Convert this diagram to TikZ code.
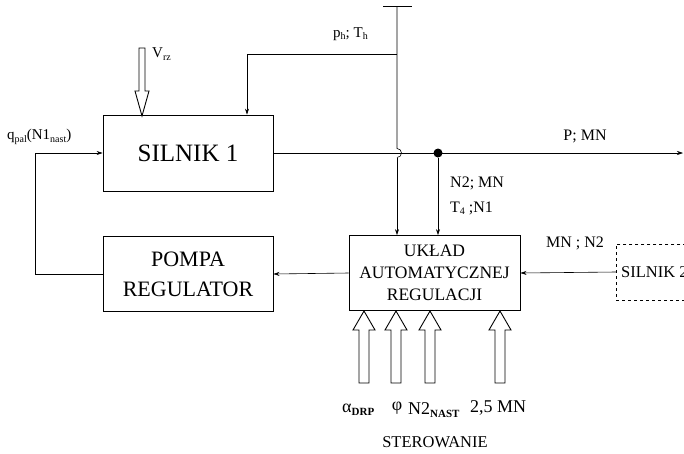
\documentclass[tikz,border=0pt]{standalone}
\usepackage{fontspec}
\setmainfont{Liberation Serif}
\usetikzlibrary{arrows.meta}
\newcommand{\sbs}[1]{\raisebox{-0.35ex}{\fontsize{10}{10}\selectfont #1}}
\newcommand{\sbb}[1]{\raisebox{-0.35ex}{\fontsize{11}{11}\selectfont\bfseries #1}}
% hollow arrow: x, y tail, y tip, half shaft, half head, head length
\newcommand{\hollowarrow}[6]{%
  \draw[hollow] ({#1-#4},#2) -- ({#1-#4},{#3-#6}) -- ({#1-#5},{#3-#6}) -- (#1,#3)
   -- ({#1+#5},{#3-#6}) -- ({#1+#4},{#3-#6}) -- ({#1+#4},#2) -- cycle;}
\tikzset{
  blk/.style={draw, line width=0.9pt, inner sep=0pt, align=center},
  conn/.style={line width=0.6pt},
  arr/.style={conn, -{Stealth[length=6pt,width=4pt]}},
  hollow/.style={line width=0.9pt, fill=white},
  lbl/.style={inner sep=0pt, font=\fontsize{15}{15}\selectfont},
}
\begin{document}
\begin{tikzpicture}[x=1pt,y=-1pt]
\useasboundingbox (0,0) rectangle (684,453);
\clip (0,0) rectangle (684,453);
\fill[white] (0,0) rectangle (684,453);

% blocks
\node[blk, minimum width=170, minimum height=76, font=\fontsize{25}{25}\selectfont] (s1) at (188,153) {SILNIK 1};
\node[blk, minimum width=170, minimum height=75, font=\fontsize{22}{30}\selectfont] (pompa) at (188,274) {POMPA\\REGULATOR};
\node[blk, minimum width=171, minimum height=75, font=\fontsize{17.5}{22}\selectfont] (uar) at (434.5,273) {UKŁAD\\AUTOMATYCZNEJ\\REGULACJI};
\node[draw, dashed, line width=0.6pt, minimum width=160, minimum height=56, inner sep=0pt, anchor=west] (s2) at (616,272) {};
\node[anchor=west, inner sep=0pt, font=\fontsize{16.5}{16.5}\selectfont] (s2t) at (621,272) {SILNIK 2};

% coordinates
\coordinate (top) at (397,6);
\coordinate (ph) at (397,54);
\coordinate (phl) at (247,54);
\coordinate (hopa) at (397,148.5);
\coordinate (hopb) at (397,157.5);
\coordinate (outend) at (683,153);
\coordinate (fbl) at (35,274);
\coordinate (fbu) at (35,153);
\node[circle, fill, inner sep=0pt, minimum size=9pt] (dot) at (438,153) {};

% top tick and vertical line with hop
\draw[conn] (383,6) -- (412,6);
\draw[conn] (top) -- (hopa) arc[start angle=-90, end angle=90, radius=4.5] ;
\draw[arr] (hopb) -- (uar.north -| hopb);
% p_h T_h feedback
\draw[arr] (ph) -- (phl) -- (s1.north -| phl);
% main output line
\draw[arr] (s1.east) -- (outend);
% dot to UAR
\draw[arr] (dot) -- (uar.north -| dot);
% UAR to pompa
\draw[arr] (uar.west) -- (pompa.east);
% silnik 2 to UAR
\draw[arr] (s2.west) -- (uar.east);
% pompa feedback to silnik 1
\draw[arr] (pompa.west) -- (fbl) -- (fbu) -- (s1.west);

% hollow arrows
\hollowarrow{142}{48}{116}{3}{7}{25}
\hollowarrow{364}{383}{311}{5}{11}{-19}
\hollowarrow{396}{383}{311}{5}{11}{-19}
\hollowarrow{430}{383}{311}{5}{11}{-19}
\hollowarrow{500}{383}{311}{5}{11}{-19}

% labels
\node[lbl, anchor=west] (lvrz) at (152,54) {V\sbs{rz}};
\node[lbl, anchor=west] (lq) at (7,137) {q\sbs{pal}(N1\sbs{nast})};
\node[lbl, anchor=west] (lph) at (333,34) {p\sbs{h}; T\sbs{h}};
\node[lbl, anchor=center, font=\fontsize{16}{16}\selectfont] (lp) at (585,136) {P; MN};
\node[lbl, anchor=west, font=\fontsize{16}{16}\selectfont] (ln2) at (450,183) {N2; MN};
\node[lbl, anchor=west, font=\fontsize{16}{16}\selectfont] (lt4) at (450,208) {T\sbs{4} ;N1};
\node[lbl, anchor=center, font=\fontsize{16}{16}\selectfont] (lmn) at (575,243) {MN ; N2};
\node[lbl, anchor=west, font=\fontsize{18}{18}\selectfont] (la) at (342,410) {α\sbb{DRP}};
\node[lbl, anchor=center, font=\fontsize{18}{18}\selectfont] (lphi) at (397,408) {φ};
\node[lbl, anchor=west, font=\fontsize{18}{18}\selectfont] (ln2n) at (408,410) {N2\sbb{NAST}};
\node[lbl, anchor=center, font=\fontsize{18}{18}\selectfont] (l25) at (498,408) {2,5 MN};
\node[lbl, anchor=center, font=\fontsize{16.5}{16.5}\selectfont] (lst) at (435,442) {STEROWANIE};
\end{tikzpicture}
\end{document}
